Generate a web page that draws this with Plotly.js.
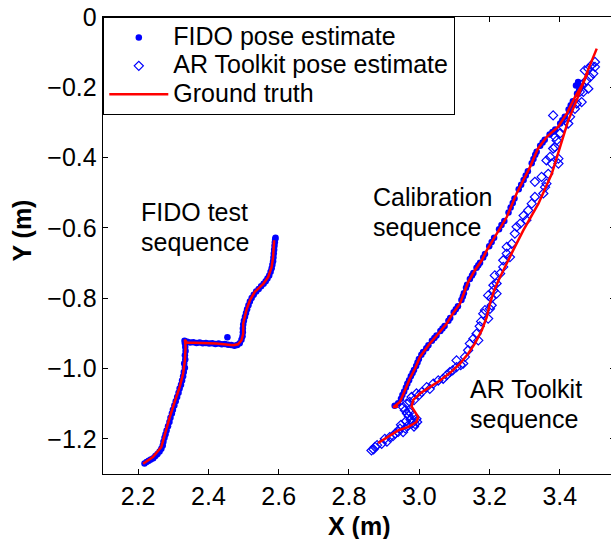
<!DOCTYPE html>
<html><head><meta charset="utf-8">
<script src="https://cdn.plot.ly/plotly-3.0.1.min.js"></script>
<style>html,body{margin:0;padding:0;overflow:hidden;background:#fff}</style>
</head><body><div id="chart"></div>
<script>
// ---- axis ticks ----
const xTicks = [2.2, 2.4, 2.6, 2.8, 3.0, 3.2, 3.4];
const xTickText = ['2.2', '2.4', '2.6', '2.8', '3.0', '3.2', '3.4'];
const yTicks = [0, -0.2, -0.4, -0.6, -0.8, -1.0, -1.2];
const yTickText = ['0', '\u22120.2', '\u22120.4', '\u22120.6', '\u22120.8', '\u22121.0', '\u22121.2'];

// ---- series names ----
const seriesNames = ['FIDO pose estimate', 'AR Toolkit pose estimate', 'Ground truth'];

// ---- ground truth paths ----
const testGtX = [2.214,2.242,2.266,2.276,2.290,2.304,2.318,2.328,2.333,2.335,2.333,2.338,2.375,2.423,2.470,2.484,2.494,2.499,2.499,2.508,2.518,2.532,2.556,2.570,2.580,2.584,2.587];
const testGtY = [-1.271,-1.252,-1.223,-1.185,-1.138,-1.095,-1.053,-1.015,-0.977,-0.939,-0.918,-0.926,-0.928,-0.929,-0.934,-0.931,-0.920,-0.901,-0.872,-0.834,-0.806,-0.782,-0.759,-0.740,-0.711,-0.683,-0.635];
const calibGtX = [2.940,2.926,2.945,2.959,2.973,2.988,3.002,3.016,3.030,3.054,3.078,3.092,3.116,3.130,3.139,3.158,3.178,3.192,3.220,3.249,3.277,3.315,3.338,3.363,3.395,3.420,3.443,3.466,3.480];
const calibGtY = [-1.108,-1.110,-1.095,-1.062,-1.029,-1.000,-0.967,-0.948,-0.929,-0.901,-0.872,-0.849,-0.815,-0.778,-0.754,-0.721,-0.692,-0.664,-0.616,-0.569,-0.502,-0.427,-0.374,-0.341,-0.313,-0.274,-0.228,-0.189,-0.157];
const arGtX = [2.883,2.912,2.940,2.969,2.992,2.997,2.988,2.978,2.983,3.002,3.030,3.059,3.087,3.116,3.139,3.158,3.178,3.192,3.201,3.213,3.228,3.241,3.253,3.267,3.296,3.339,3.377,3.400,3.424,3.448,3.476,3.505];
const arGtY = [-1.212,-1.193,-1.176,-1.166,-1.152,-1.138,-1.124,-1.108,-1.089,-1.071,-1.053,-1.034,-1.013,-0.986,-0.958,-0.929,-0.891,-0.854,-0.815,-0.778,-0.744,-0.716,-0.692,-0.664,-0.607,-0.531,-0.446,-0.370,-0.294,-0.237,-0.161,-0.090];

// ---- FIDO pose estimates (test sequence) ----
const fidoTestX = [2.218,2.224,2.230,2.236,2.243,2.249,2.255,2.261,2.266,2.270,2.272,2.275,2.278,2.281,2.285,2.289,2.292,2.296,2.299,2.303,2.307,2.311,2.315,2.318,2.322,2.325,2.328,2.330,2.333,2.331,2.334,2.333,2.335,2.334,2.333,2.332,
  2.340,2.348,2.357,2.366,2.375,2.384,2.393,2.402,2.411,2.420,2.429,2.438,2.447,2.456,2.465,2.474,2.482,2.489,2.454,
  2.494,2.497,2.498,2.498,2.499,2.501,2.504,2.507,2.510,2.514,2.518,2.523,2.529,2.536,2.543,2.550,2.557,2.563,2.568,2.573,2.577,2.580,2.582,2.584,2.585,2.586,2.587,2.588,2.589,2.590,2.591];
const fidoTestY = [-1.270,-1.266,-1.262,-1.259,-1.255,-1.249,-1.243,-1.236,-1.228,-1.219,-1.208,-1.197,-1.187,-1.176,-1.164,-1.152,-1.140,-1.128,-1.117,-1.105,-1.093,-1.081,-1.069,-1.057,-1.046,-1.034,-1.022,-1.010,-0.998,-0.986,-0.974,-0.962,-0.950,-0.939,-0.928,-0.921,
  -0.924,-0.926,-0.925,-0.927,-0.926,-0.928,-0.927,-0.929,-0.928,-0.930,-0.929,-0.931,-0.930,-0.932,-0.933,-0.935,-0.933,-0.928,-0.911,
  -0.918,-0.908,-0.897,-0.886,-0.875,-0.864,-0.853,-0.842,-0.831,-0.820,-0.809,-0.799,-0.790,-0.781,-0.774,-0.766,-0.759,-0.752,-0.744,-0.735,-0.725,-0.715,-0.705,-0.695,-0.684,-0.673,-0.662,-0.651,-0.641,-0.632,-0.628];

// ---- FIDO pose estimates (calibration sequence) ----
const fidoCalibX = [2.930,2.940,2.948,2.952,2.957,2.962,2.966,2.971,2.976,2.981,2.985,2.991,2.995,2.999,3.006,3.011,3.020,3.026,3.036,3.043,3.049,3.060,3.066,3.072,3.083,3.088,3.098,3.104,3.110,3.120,3.124,3.127,3.133,3.136,3.144,3.150,3.154,3.163,3.168,3.173,3.182,3.187,3.199,3.206,3.213,3.227,3.234,3.242,3.254,3.260,3.266,3.271,3.283,3.290,3.297,3.303,3.309,3.320,3.325,3.330,3.334,3.344,3.351,3.357,3.371,3.379,3.387,3.401,3.407,3.414,3.425,3.431,3.437,3.449,3.455,3.461,3.452,3.446];
const fidoCalibY = [-1.106,-1.099,-1.086,-1.075,-1.065,-1.054,-1.043,-1.033,-1.022,-1.013,-1.004,-0.993,-0.983,-0.973,-0.961,-0.953,-0.942,-0.934,-0.921,-0.913,-0.906,-0.893,-0.886,-0.879,-0.864,-0.856,-0.840,-0.831,-0.823,-0.805,-0.795,-0.786,-0.770,-0.762,-0.745,-0.735,-0.728,-0.713,-0.706,-0.699,-0.684,-0.674,-0.652,-0.640,-0.628,-0.604,-0.592,-0.580,-0.556,-0.542,-0.529,-0.516,-0.490,-0.477,-0.464,-0.451,-0.439,-0.416,-0.404,-0.392,-0.383,-0.366,-0.357,-0.349,-0.334,-0.327,-0.320,-0.303,-0.294,-0.284,-0.263,-0.251,-0.240,-0.218,-0.208,-0.198,-0.185,-0.195];

// ---- AR Toolkit pose estimates ----
const arX = [2.864,2.874,2.870,2.880,2.893,2.902,2.908,2.916,2.925,2.931,2.940,2.945,2.954,2.960,2.968,2.948,2.975,2.980,2.985,2.988,2.994,2.992,2.962,2.970,2.983,2.973,2.965,2.959,2.954,2.964,2.973,2.978,2.985,2.992,3.007,3.000,3.021,3.030,3.040,3.054,3.068,3.078,3.087,3.095,3.106,3.106,3.125,3.118,3.130,3.139,3.144,3.154,3.168,3.163,3.172,3.176,3.182,3.187,3.196,3.201,3.206,3.196,3.205,3.211,3.220,3.211,3.220,3.215,3.230,3.239,3.239,3.249,3.258,3.249,3.263,3.272,3.277,3.287,3.305,3.297,3.310,3.320,3.329,3.353,3.358,3.362,3.329,3.348,3.367,3.377,3.362,3.372,3.396,3.396,3.386,3.381,3.391,3.386,3.400,3.410,3.424,3.429,3.381,3.443,3.462,3.448,3.457,3.467,3.481,3.462,3.476,3.486,3.495,3.500,3.490,3.481,3.471,3.500];
const arY = [-1.233,-1.223,-1.230,-1.218,-1.214,-1.200,-1.208,-1.195,-1.192,-1.185,-1.180,-1.171,-1.181,-1.170,-1.162,-1.160,-1.145,-1.155,-1.165,-1.158,-1.152,-1.143,-1.150,-1.135,-1.133,-1.124,-1.128,-1.119,-1.110,-1.100,-1.095,-1.081,-1.090,-1.071,-1.067,-1.075,-1.053,-1.058,-1.043,-1.034,-1.029,-1.019,-1.010,-1.005,-0.996,-0.977,-0.986,-0.990,-0.967,-0.948,-0.929,-0.915,-0.920,-0.901,-0.880,-0.866,-0.844,-0.834,-0.858,-0.830,-0.820,-0.792,-0.800,-0.778,-0.787,-0.763,-0.758,-0.735,-0.730,-0.711,-0.692,-0.673,-0.683,-0.654,-0.645,-0.616,-0.597,-0.588,-0.578,-0.565,-0.550,-0.531,-0.512,-0.502,-0.484,-0.474,-0.469,-0.455,-0.446,-0.417,-0.408,-0.398,-0.403,-0.417,-0.370,-0.374,-0.351,-0.341,-0.332,-0.313,-0.303,-0.284,-0.280,-0.261,-0.242,-0.246,-0.213,-0.213,-0.204,-0.194,-0.180,-0.171,-0.161,-0.142,-0.137,-0.147,-0.152,-0.128];

// ---- text labels ----
const seqLabels = [
  {text: 'FIDO test', x: 2.202, y: -0.5556},
  {text: 'sequence',  x: 2.202, y: -0.639},
  {text: 'Calibration', x: 2.864, y: -0.5129},
  {text: 'sequence',    x: 2.864, y: -0.5963},
  {text: 'AR Toolkit', x: 3.140, y: -1.0592},
  {text: 'sequence',   x: 3.140, y: -1.1425}
];

const FONT = '"Liberation Sans", Arial, Helvetica, sans-serif';
const legendName = s => '<span style="font-size:25px">' + s + '</span>';

const gtX = testGtX.concat([null], calibGtX, [null], arGtX);
const gtY = testGtY.concat([null], calibGtY, [null], arGtY);

const traces = [
  {
    type: 'scatter', mode: 'markers', name: legendName(seriesNames[0]),
    x: fidoTestX.concat(fidoCalibX), y: fidoTestY.concat(fidoCalibY),
    marker: {symbol: 'circle', size: 6.5, color: '#0000ff', line: {width: 0}}
  },
  {
    type: 'scatter', mode: 'markers', name: legendName(seriesNames[1]),
    x: arX, y: arY,
    marker: {symbol: 'diamond-open', size: 7, color: '#0000ff', line: {width: 1.2, color: '#0000ff'}}
  },
  {
    type: 'scatter', mode: 'lines', name: legendName(seriesNames[2]),
    x: gtX, y: gtY, connectgaps: false,
    line: {color: '#ff0000', width: 2.5}
  }
];

const annotations = seqLabels.map(l => ({
  text: l.text, x: l.x, y: l.y, xref: 'x', yref: 'y',
  xanchor: 'left', yanchor: 'middle', showarrow: false, align: 'left',
  font: {family: FONT, size: 25, color: '#000'}
}));
annotations.push({
  text: '<b>Y (m)</b>', xref: 'paper', yref: 'paper', x: -0.159, y: 0.5317,
  xanchor: 'center', yanchor: 'middle', textangle: -90, showarrow: false,
  font: {family: FONT, size: 25, color: '#000'}
});
annotations.push({
  text: '<b>X (m)</b>', xref: 'paper', yref: 'paper', x: 0.5, y: -0.1138,
  xanchor: 'center', yanchor: 'middle', showarrow: false,
  font: {family: FONT, size: 25, color: '#000'}
});

const axisCommon = {
  showgrid: false, zeroline: false, showline: true, linecolor: '#000', linewidth: 1.3,
  mirror: 'ticks', ticks: 'inside', ticklen: 5, tickwidth: 1, tickcolor: '#000',
  tickfont: {family: FONT, size: 25, color: '#000'}, fixedrange: true
};

const layout = {
  width: 615, height: 539,
  margin: {l: 103, r: 0, t: 17, b: 65, pad: 0},
  paper_bgcolor: '#fff', plot_bgcolor: '#fff',
  font: {family: FONT, color: '#000'},
  xaxis: Object.assign({}, axisCommon, {range: [2.1, 3.557], tickmode: 'array', tickvals: xTicks, ticktext: xTickText}),
  yaxis: Object.assign({}, axisCommon, {range: [-1.3, 0], tickmode: 'array', tickvals: yTicks, ticktext: yTickText}),
  showlegend: true,
  legend: {
    x: 0, y: 1, xanchor: 'left', yanchor: 'top', bgcolor: '#fff',
    bordercolor: '#000', borderwidth: 1.3, itemwidth: 59,
    font: {family: FONT, size: 19.5, color: '#000'}
  },
  annotations: annotations
};

Plotly.newPlot('chart', traces, layout, {displayModeBar: false, staticPlot: true});
</script>
</body></html>
